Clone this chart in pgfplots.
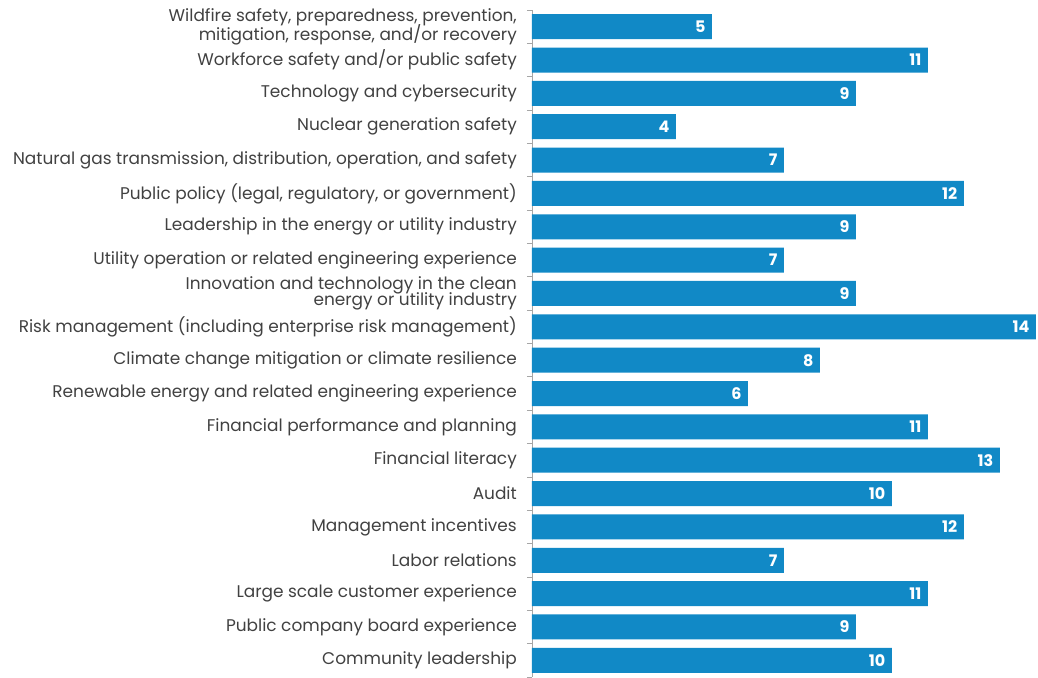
\documentclass[border=0pt]{standalone}
\usepackage{fontspec}
\setmainfont{Poppins}
\usepackage{pgfplots}
\pgfplotsset{compat=1.18}
\definecolor{barblue}{RGB}{17,137,198}
\definecolor{labgray}{RGB}{65,65,65}
\begin{document}
\begin{tikzpicture}
\begin{axis}[
  scale only axis,
  width=506bp, height=667bp,
  xbar, bar width=0.75,
  xmin=0, xmax=14.06,
  ymin=0.5, ymax=20.5,
  y dir=reverse,
  axis x line=none,
  axis y line*=left,
  y axis line style={draw=gray!70, line width=0.8pt},
  ytick={1,...,20},
  major tick length=0pt,
  minor ytick={0.5,1.5,...,20.5},
  minor tick length=5bp,
  tick align=outside,
  minor tick style={draw=gray!70, line width=0.8pt},
  yticklabels={
    {Wildfire safety, preparedness, prevention,\\[-2.5bp]mitigation, response, and/or recovery},
    Workforce safety and/or public safety,
    Technology and cybersecurity,
    Nuclear generation safety,
    {Natural gas transmission, distribution, operation, and safety},
    {Public policy (legal, regulatory, or government)},
    Leadership in the energy or utility industry,
    Utility operation or related engineering experience,
    {Innovation and technology in the clean\\[-2.5bp]energy or utility industry},
    Risk management (including enterprise risk management),
    Climate change mitigation or climate resilience,
    Renewable energy and related engineering experience,
    Financial performance and planning,
    Financial literacy,
    Audit,
    Management incentives,
    Labor relations,
    Large scale customer experience,
    Public company board experience,
    Community leadership},
  yticklabel style={align=right, font=\fontsize{17}{14}\selectfont, text=labgray, inner sep=2bp, xshift=-13bp},
  nodes near coords,
  nodes near coords style={anchor=east, text=white, font=\bfseries\fontsize{16}{16}\selectfont, xshift=-3bp},
  /pgf/number format/assume math mode=true,
]
\addplot[fill=barblue, draw=none] coordinates {
(5,1) (11,2) (9,3) (4,4) (7,5) (12,6) (9,7) (7,8) (9,9) (14,10)
(8,11) (6,12) (11,13) (13,14) (10,15) (12,16) (7,17) (11,18) (9,19) (10,20)
};
\end{axis}
\path ([xshift=-532bp]current axis.south west) rectangle ([yshift=10bp]current axis.north east);
\end{tikzpicture}
\end{document}
